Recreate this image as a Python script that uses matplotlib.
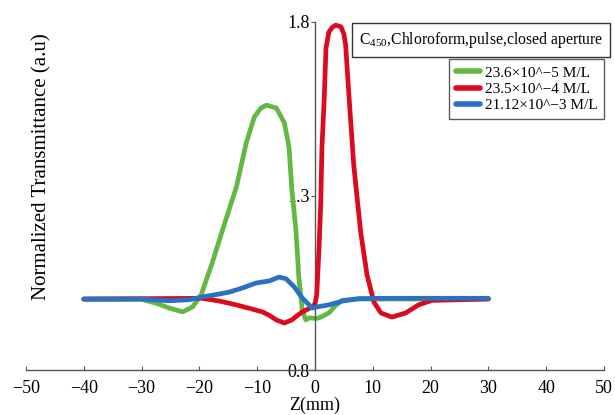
import matplotlib.pyplot as plt

plt.rcParams['font.family'] = ['Liberation Serif', 'DejaVu Serif']
plt.rcParams['mathtext.fontset'] = 'custom'
plt.rcParams['mathtext.rm'] = 'Liberation Serif'

# Z positions (mm) and normalized transmittance
z_green = [-40, -30, -27.5, -25.2, -22.9, -21.2, -19.7, -17.8, -16, -13.6, -11.9, -10.5, -9.4, -8.4,
           -6.7, -5.3, -4.5, -4, -3.3, -2.8, -2.2, -1.6, -1.0, 0.2, 0.7, 1.5, 2.4, 3.5, 4.7, 7, 30]
t_green = [1.003, 1.003, 0.992, 0.978, 0.967, 0.981, 1.016, 1.107, 1.202, 1.326, 1.452, 1.527, 1.552, 1.561,
           1.553, 1.51, 1.441, 1.317, 1.202, 1.067, 0.972, 0.944, 0.95, 0.948, 0.95, 0.956, 0.964, 0.984, 1.0, 1.004, 1.004]

z_red = [-40, -19.5, -16.5, -13.6, -11.3, -9.1, -7.9, -6.7, -5.3, -4, -3.1, -2.2, -0.5, 0.0, 0.3,
         0.7, 1.0, 1.2, 1.6, 1.9, 2.4, 3.0, 3.6, 4.5, 5.0, 5.3, 5.9, 6.7, 7.9, 9.0, 10.2, 11.4, 13.3,
         15.7, 17.9, 20.2, 30]
t_red = [1.004, 1.006, 0.998, 0.987, 0.977, 0.967, 0.957, 0.944, 0.935, 0.944, 0.956, 0.967, 0.981, 0.99, 1.016,
         1.151, 1.283, 1.438, 1.582, 1.725, 1.771, 1.785, 1.791, 1.786, 1.765, 1.734, 1.582, 1.389, 1.197, 1.073,
         0.995, 0.964, 0.952, 0.964, 0.987, 1.0, 1.004]

z_blue = [-40, -30, -25.2, -21.7, -19.5, -17, -14.8, -12.5, -10.2, -7.9, -6.2, -5, -3.6, -2.2,
          -0.5, 0.2, 2.4, 4.7, 7.6, 11.6, 30]
t_blue = [1.004, 1.004, 0.999, 1.002, 1.01, 1.017, 1.024, 1.036, 1.05, 1.056, 1.067, 1.062, 1.039, 1.007,
          0.978, 0.981, 0.987, 0.998, 1.005, 1.006, 1.006]

labels = ['23.6×10^−5 M/L', '23.5×10^−4 M/L', '21.12×10^−3 M/L']
colors = ['#63b843', '#dc0a1e', '#2a70c4']

fig = plt.figure(figsize=(6.15, 4.15), dpi=100)
ax = fig.add_axes([26 / 615, 45 / 415, 578 / 615, 348 / 415])

for z, t, c, lab, zo in [(z_green, t_green, colors[0], labels[0], 2),
                         (z_red, t_red, colors[1], labels[1], 3),
                         (z_blue, t_blue, colors[2], labels[2], 4)]:
    ax.plot(z, t, color=c, lw=3.4, label=lab, zorder=zo,
            solid_joinstyle='round', solid_capstyle='round')

ax.set_xlim(-50, 50)
ax.set_ylim(0.8, 1.8)
ax.set_xticks(range(-50, 51, 10))
ax.set_yticks([0.8, 1.3, 1.8])
ax.set_yticklabels(['0.8', '1.3', '1.8'])

ax.spines['top'].set_visible(False)
ax.spines['right'].set_visible(False)
ax.spines['left'].set_position(('data', 0))
for s in ['left', 'bottom']:
    ax.spines[s].set_color('#555555')
    ax.spines[s].set_linewidth(1.0)
ax.tick_params(axis='x', direction='in', length=3, labelsize=13, color='#555555', pad=7)
ax.tick_params(axis='y', direction='out', length=3, labelsize=13, color='#555555', pad=1)
ax.set_zorder(1)

ax.set_xlabel('Z(mm)', fontsize=13, labelpad=0)
fig.text(42 / 615, 1 - 167 / 415, 'Normalized Transmittance (a.u)', rotation=90,
         ha='center', va='center', fontsize=15)

fig.text(481 / 615, 1 - 40 / 415, r'C$_{450}$,Chloroform,pulse,closed aperture',
         ha='center', va='center', fontsize=11.3,
         bbox=dict(boxstyle='square,pad=0.42', facecolor='white', edgecolor='#333333', lw=1.0))

leg = ax.legend(loc='upper left', bbox_to_anchor=(449 / 615, 1 - 59 / 415),
                bbox_transform=fig.transFigure, fontsize=11, frameon=True, fancybox=False,
                handlelength=1.6, handletextpad=0.3, borderpad=0.45, labelspacing=0.18,
                borderaxespad=0)
leg.get_frame().set_edgecolor('#333333')
leg.get_frame().set_linewidth(1.0)
for line in leg.get_lines():
    line.set_linewidth(4)

fig.savefig('out.png', dpi=100)
